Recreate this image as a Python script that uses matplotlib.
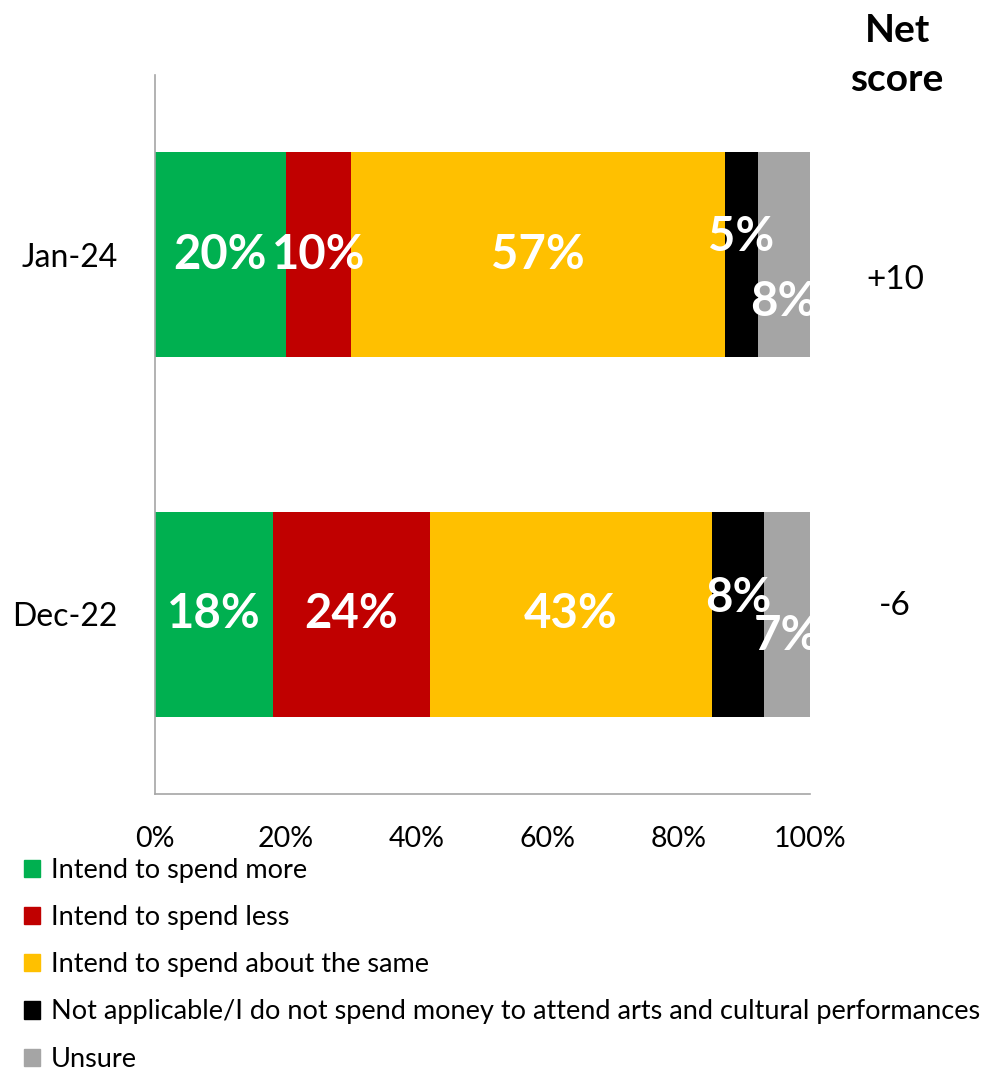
import numpy as np
import matplotlib.pyplot as plt
from matplotlib.patches import Patch

plt.rcParams['font.family'] = ['Lato', 'DejaVu Sans']

# datos
periodos = ['Dec-22', 'Jan-24']
categorias = ['Intend to spend more', 'Intend to spend less',
              'Intend to spend about the same',
              'Not applicable/I do not spend money to attend arts and cultural performances',
              'Unsure']
valores = {
    'Intend to spend more': [18, 20],
    'Intend to spend less': [24, 10],
    'Intend to spend about the same': [43, 57],
    'Not applicable/I do not spend money to attend arts and cultural performances': [8, 5],
    'Unsure': [7, 8],
}
net_score = ['-6', '+10']
colores = ['#00B050', '#C00000', '#FFC000', '#000000', '#A5A5A5']

fig = plt.figure(figsize=(9.86, 10.71), dpi=100)
ax = fig.add_axes([0.1572, 0.2586, 0.6643, 0.6713])

# desplazamiento vertical de las etiquetas pequeñas (para que no se encimen)
desp = {
    'Not applicable/I do not spend money to attend arts and cultural performances': [0.045, 0.05],
    'Unsure': [-0.06, -0.13],
}

y = np.arange(len(periodos))
izq = np.zeros(len(periodos))
for cat, col in zip(categorias, colores):
    v = np.array(valores[cat], dtype=float)
    ax.barh(y, v, left=izq, height=0.57, color=col, edgecolor='none')
    for i in range(len(periodos)):
        xc = izq[i] + v[i] / 2
        dy = desp.get(cat, [0, 0])[i]
        ax.text(xc, y[i] + dy, f'{int(v[i])}%', ha='center', va='center',
                color='white', fontsize=34, fontweight='bold')
    izq += v

ax.set_xlim(0, 100)
ax.set_ylim(-0.5, 1.5)
ax.set_yticks(y)
ax.set_yticklabels(periodos, fontsize=23)
ax.set_xticks(np.arange(0, 101, 20))
ax.set_xticklabels([f'{t}%' for t in range(0, 101, 20)], fontsize=20.5)
ax.tick_params(length=0)
ax.tick_params(axis='y', pad=27)
ax.tick_params(axis='x', pad=23)
for s in ['top', 'right']:
    ax.spines[s].set_visible(False)
for s in ['left', 'bottom']:
    ax.spines[s].set_color('#A6A6A6')
    ax.spines[s].set_linewidth(1.2)

# puntaje neto
fig.text(0.91, 0.988, 'Net\nscore', ha='center', va='top', fontsize=28,
         fontweight='bold', linespacing=1.5)
for i, ns in enumerate(net_score):
    ax.text(113, y[i] + (0.023 if i == 0 else -0.07), ns, ha='center', va='center',
            fontsize=24, clip_on=False)

# leyenda
handles = [Patch(color=c) for c in colores]
fig.legend(handles, categorias, loc='upper left', bbox_to_anchor=(0.024, 0.199),
           frameon=False, fontsize=19.5, handlelength=0.6, handleheight=0.6,
           handletextpad=0.4, labelspacing=0.82, borderaxespad=0, borderpad=0)

fig.savefig('out.png', dpi=100)
